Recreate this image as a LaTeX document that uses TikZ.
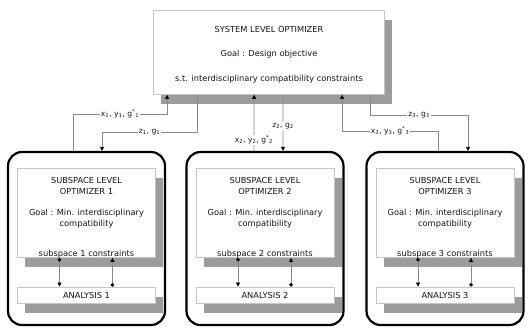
\documentclass[tikz,border=0pt]{standalone}
\usepackage{fontspec}
\setmainfont{DejaVu Sans}
\usetikzlibrary{arrows.meta,shadows,positioning}
\definecolor{cLine}{HTML}{8A8A8A}
\definecolor{cShade}{HTML}{9C9C9C}
\definecolor{cEdge}{HTML}{C6C6C6}
\definecolor{cInk}{HTML}{141414}
\tikzset{
  txt/.style={font=\fontsize{8.3}{11}\selectfont,text=cInk,align=center,inner sep=0pt},
  panel/.style={rectangle,draw=cEdge,line width=.8bp,fill=white,inner sep=0pt,txt,
    drop shadow={shadow xshift=7.5bp,shadow yshift=-9.5bp,fill=cShade,opacity=1}},
  frame/.style={rectangle,draw=black,line width=2.2bp,rounded corners=14bp,
    minimum width=157bp,minimum height=173bp},
  lbl/.style={font=\fontsize{7.6}{8}\selectfont,text=cInk,fill=white,inner sep=1bp},
  arr/.style={-{Triangle[length=4bp,width=4bp,color=black]},draw=cLine,line width=.7bp},
  dotarr/.style={{Circle[length=3.5bp,color=black]}-{Triangle[length=4bp,width=4bp,color=black]},
    draw=cLine,line width=.7bp},
}

\begin{document}
\begin{tikzpicture}[x=1bp,y=-1bp]
  \useasboundingbox (0,0) rectangle (531,328);
  % system level
  \node[panel,minimum width=231bp,minimum height=84bp] (sys) at (269,52.5) {};
  \node[txt,anchor=north] at ([yshift=-16bp]sys.north)
    {SYSTEM LEVEL OPTIMIZER\\[13.5bp]Goal : Design objective\\[13.5bp]s.t. interdisciplinary compatibility constraints};
  % subspaces, frame drawn last so it sits over the shadows
  \foreach \k/\cx in {1/86.5,2/265,3/445}{
    \node[panel,minimum width=138bp,minimum height=89bp] (opt\k) at (\cx,213) {};
    \node[panel,minimum width=138bp,minimum height=16bp] (ana\k) at (\cx,295) {ANALYSIS \k};
    \node[txt,anchor=north] at ([yshift=-9bp]opt\k.north)
      {SUBSPACE LEVEL\\OPTIMIZER \k\\[10bp]Goal : Min. interdisciplinary\\compatibility\\[19bp]subspace \k{} constraints};
    \draw[dotarr] ([xshift=-27bp]opt\k.south) -- ([xshift=-27bp]ana\k.north);
    \draw[dotarr] ([xshift=26bp]ana\k.north) -- ([xshift=26bp]opt\k.south);
    \node[frame] (sub\k) at (\cx,238.5) {};
  }
  % ports under the system box
  \coordinate (up1) at ([xshift=14bp]sys.south west);
  \coordinate (dn1) at ([xshift=44bp]sys.south west);
  \coordinate (up2) at ([xshift=101bp]sys.south west);
  \coordinate (dn2) at ([xshift=130bp]sys.south west);
  \coordinate (up3) at ([xshift=189bp]sys.south west);
  \coordinate (dn3) at ([xshift=217bp]sys.south west);
  \draw[arr] ([xshift=-13.5bp]sub1.north) -- ++(0,-37)
    -| node[lbl,pos=.25] {x\textsubscript{1}, y\textsubscript{1}, g\textsuperscript{*}\textsubscript{1}} (up1);
  \draw[arr] (dn1) -- ++(0,37)
    -| node[lbl,pos=.25] {z\textsubscript{1}, g\textsubscript{1}} ([xshift=15.5bp]sub1.north);
  \draw[arr] ([xshift=-11bp]sub2.north)
    -- node[lbl,pos=.2] {x\textsubscript{2}, y\textsubscript{2}, g\textsuperscript{*}\textsubscript{2}} (up2);
  \draw[arr] (dn2)
    -- node[lbl,pos=.55] {z\textsubscript{2}, g\textsubscript{2}} ([xshift=18bp]sub2.north);
  \draw[arr] ([xshift=-7bp]sub3.north) -- ++(0,-20)
    -| node[lbl,pos=.25] {x\textsubscript{3}, y\textsubscript{3}, g\textsuperscript{*}\textsubscript{3}} (up3);
  \draw[arr] (dn3) -- ++(0,20)
    -| node[lbl,pos=.25] {z\textsubscript{3}, g\textsubscript{3}} ([xshift=23bp]sub3.north);
\end{tikzpicture}
\end{document}
